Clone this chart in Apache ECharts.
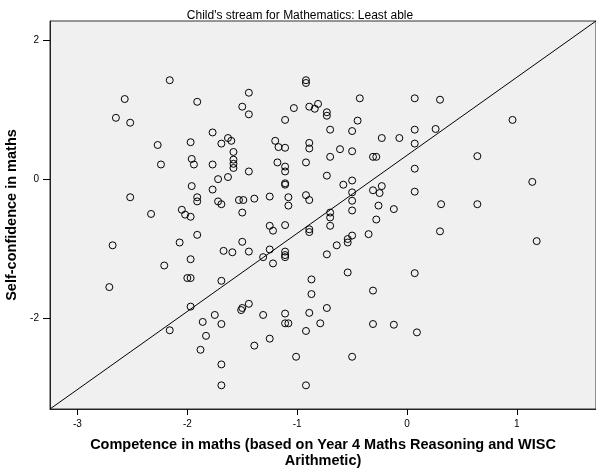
<!DOCTYPE html>
<html>
<head>
<meta charset="utf-8">
<script src="https://cdn.jsdelivr.net/npm/echarts@6/dist/echarts.min.js"></script>
<style>html,body{margin:0;padding:0;background:#fff;}#c{width:596px;height:474px;}</style>
</head>
<body>
<div id="c"></div>
<script>
const titleText = "Child's stream for Mathematics: Least able";
const xName = "Competence in maths (based on Year 4 Maths Reasoning and WISC\nArithmetic)";
const yName = "Self-confidence in maths";
const xMin = -3.25, xMax = 1.72;
const yMin = -3.30, yMax = 2.27;
const xTicks = [-3, -2, -1, 0, 1];
const yTicks = [-2, 0, 2];
const competence = [
-2.16,-2.57,-1.91,-2.65,-2.52,-1.77,-1.63,-1.60,-1.69,-2.27,-1.97,-1.58,-1.58,-1.58,-1.58,-1.96,-1.94,-2.24,-1.77,-1.63,
-1.72,-1.96,-1.77,-2.52,-1.91,-1.91,-1.72,-1.69,-2.33,-2.05,-2.02,-1.97,
-1.91,-2.07,-2.68,-1.67,-1.59,-1.97,-2.21,-2.00,-1.97,-1.69,-2.71,-1.97,-1.75,-1.86,-1.69,-2.16,-1.83,-1.88,-1.69,-1.69,
-0.92,-0.92,-1.44,-0.43,0.07,-1.50,-1.44,-1.03,-0.89,-0.81,-0.84,-0.73,-0.73,-1.11,-0.45,-0.70,-0.50,0.07,-0.23,-0.07,
0.07,-1.20,-1.17,-1.11,-0.89,-0.89,-0.61,-0.50,-0.70,-0.31,-0.28,0.07,-1.18,-1.11,-1.11,-0.92,-1.44,-0.73,-0.50,-1.11,
-1.11,-0.58,-0.23,-0.31,-0.25,-0.50,0.07,-1.25,-1.39,-1.53,-1.49,-1.08,-1.08,-0.92,-0.89,-0.50,-0.26,-0.12,-0.50,-0.70,-1.50,
-0.70,-0.28,-1.25,-1.22,-1.11,-0.70,-0.89,-0.89,-0.35,-0.50,-0.54,-0.54,-0.64,-0.73,-1.50,-1.44,-1.25,-1.31,-1.22,-1.11,
-1.11,-1.11,-0.54,0.07,-0.87,-0.87,-0.31,-1.50,-1.44,-1.51,-0.73,-1.31,-1.11,-0.89,-1.11,-1.08,-0.79,-0.31,-0.12,0.09,
-0.92,-1.25,-1.39,-1.01,-0.50,-0.92,
0.30,0.96,0.26,0.64,1.14,0.31,0.64,0.30,1.18
];
const confidence = [
1.42,1.15,1.11,0.88,0.81,0.67,0.59,0.55,0.51,0.49,0.53,0.39,0.28,0.22,0.16,0.29,0.21,0.21,0.21,0.03,
0.00,-0.10,-0.15,-0.26,-0.26,-0.32,-0.32,-0.36,-0.50,-0.44,-0.51,-0.54,
-0.80,-0.91,-0.95,-1.03,-1.05,-1.15,-1.24,-1.42,-1.42,-1.46,-1.55,-1.83,-1.95,-2.05,-2.08,-2.17,-2.25,-2.45,-2.66,-2.96,
1.42,1.38,1.24,1.16,1.16,1.04,0.93,1.02,1.04,1.08,1.01,0.96,0.91,0.85,0.84,0.71,0.69,0.71,0.59,0.59,
0.51,0.55,0.46,0.45,0.52,0.44,0.43,0.40,0.32,0.32,0.32,0.15,0.24,0.18,0.11,0.24,0.11,0.05,-0.02,-0.06,
-0.08,-0.08,-0.10,-0.16,-0.20,-0.19,-0.18,-0.25,-0.28,-0.30,-0.30,-0.26,-0.38,-0.23,-0.30,-0.31,-0.38,-0.43,-0.45,-0.48,-0.48,
-0.55,-0.58,-0.67,-0.74,-0.66,-0.67,-0.72,-0.76,-0.79,-0.81,-0.86,-0.91,-0.95,-1.08,-0.90,-1.04,-1.01,-1.12,-1.21,-1.04,
-1.09,-1.12,-1.34,-1.35,-1.44,-1.65,-1.60,-1.85,-1.79,-1.88,-1.85,-1.95,-1.93,-1.92,-2.07,-2.07,-2.07,-2.08,-2.09,-2.20,
-2.18,-2.29,-2.39,-2.55,-2.55,-2.96,
1.14,0.85,0.72,0.33,-0.04,-0.36,-0.36,-0.75,-0.89
];
const points = competence.map((x, i) => [x, confidence[i]]);
const refLine = [[xMin, yMin], [xMax, yMax]];

const font = "'Liberation Sans', Arial, sans-serif";
const chart = echarts.init(document.getElementById('c'), null, {renderer: 'canvas'});
chart.setOption({
  animation: false,
  backgroundColor: '#ffffff',
  title: {
    text: titleText,
    left: 295, top: 5, textAlign: 'center',
    textStyle: {fontSize: 12, fontWeight: 'normal', color: '#000', fontFamily: font}
  },
  grid: {
    left: 50, top: 21, right: 0, bottom: 65,
    containLabel: false, outerBoundsMode: 'none',
    show: true, backgroundColor: '#F0F0F0', borderColor: '#333', borderWidth: 1
  },
  xAxis: {
    type: 'value', min: xMin, max: xMax,
    name: xName, nameLocation: 'middle', nameGap: 28,
    nameTextStyle: {fontSize: 14.5, fontWeight: 'bold', color: '#000', fontFamily: font, lineHeight: 16},
    axisLine: {onZero: false, lineStyle: {color: '#222', width: 1}},
    axisTick: {show: true, length: 6, customValues: xTicks, lineStyle: {color: '#000'}},
    axisLabel: {customValues: xTicks, fontSize: 10, color: '#000', fontFamily: font, margin: 10},
    splitLine: {show: false}
  },
  yAxis: {
    type: 'value', min: yMin, max: yMax,
    name: yName, nameLocation: 'middle', nameGap: 29,
    nameTextStyle: {fontSize: 14.5, fontWeight: 'bold', color: '#000', fontFamily: font},
    axisLine: {onZero: false, lineStyle: {color: '#222', width: 1}},
    axisTick: {show: true, length: 7, customValues: yTicks, lineStyle: {color: '#000'}},
    axisLabel: {customValues: yTicks, fontSize: 10, color: '#000', fontFamily: font, margin: 11},
    splitLine: {show: false}
  },
  series: [
    {
      type: 'line', data: refLine, symbol: 'none', silent: true,
      lineStyle: {color: '#000', width: 1}, z: 2
    },
    {
      type: 'scatter', data: points, symbol: 'circle', symbolSize: 7,
      itemStyle: {color: 'rgba(0,0,0,0)', borderColor: '#000', borderWidth: 1, opacity: 1},
      z: 3
    }
  ]
});
</script>
</body>
</html>
